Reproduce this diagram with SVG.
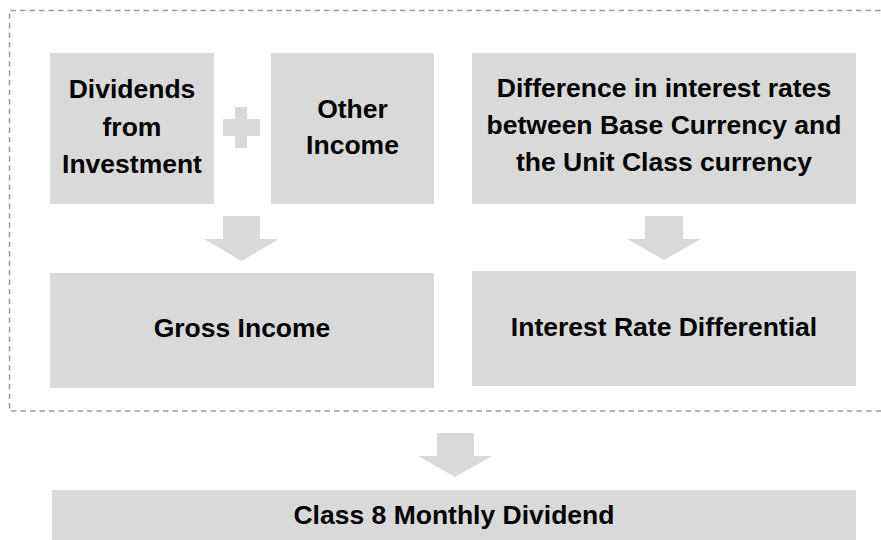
<svg xmlns="http://www.w3.org/2000/svg" width="881" height="540" viewBox="0 0 881 540">
  <style>
    .box { fill: #d9d9d9; }
    .sym { fill: #d9d9d9; }
    .frame { fill: none; stroke: #9a9a9a; stroke-width: 1.5; stroke-dasharray: 5.5 4; }
    .lbl { font-family: "Liberation Sans", Arial, sans-serif; font-weight: bold; font-size: 26.5px; fill: #000; text-anchor: middle; }
  </style>
  <rect width="881" height="540" fill="#fff"/>

  <!-- dashed grouping frame -->
  <path class="frame" d="M 890 10.5 H 9.5 V 411 H 890"/>

  <g id="dividends">
    <rect class="box" x="50" y="53" width="164" height="151"/>
    <text class="lbl" x="132" y="98">Dividends</text>
    <text class="lbl" x="132" y="135.5">from</text>
    <text class="lbl" x="132" y="173">Investment</text>
  </g>

  <g id="other-income">
    <rect class="box" x="271" y="53" width="163" height="151"/>
    <text class="lbl" x="352.5" y="118">Other</text>
    <text class="lbl" x="352.5" y="154">Income</text>
  </g>

  <g id="rate-difference">
    <rect class="box" x="472" y="53" width="384" height="151"/>
    <text class="lbl" x="664" y="97">Difference in interest rates</text>
    <text class="lbl" x="664" y="134">between Base Currency and</text>
    <text class="lbl" x="664" y="171">the Unit Class currency</text>
  </g>

  <g id="gross-income">
    <rect class="box" x="50" y="273" width="384" height="115"/>
    <text class="lbl" x="242" y="337">Gross Income</text>
  </g>

  <g id="rate-differential">
    <rect class="box" x="472" y="271" width="384" height="115"/>
    <text class="lbl" x="664" y="336">Interest Rate Differential</text>
  </g>

  <g id="monthly-dividend">
    <rect class="box" x="52" y="490" width="804" height="55"/>
    <text class="lbl" x="454" y="524">Class 8 Monthly Dividend</text>
  </g>

  <g id="connectors">
    <!-- plus sign -->
    <path class="sym" d="M 235 107 H 247 V 119 H 260 V 136 H 247 V 148 H 235 V 136 H 223 V 119 H 235 Z"/>
    <!-- block arrows -->
    <path class="sym" d="M 223 216 H 260 V 239 H 279 L 241.5 261 L 204 239 H 223 Z"/>
    <path class="sym" d="M 645 216 H 683 V 239 H 701 L 664 260 L 627 239 H 645 Z"/>
    <path class="sym" d="M 437 433 H 474 V 456 H 492 L 455 477 L 418 456 H 437 Z"/>
  </g>
</svg>
